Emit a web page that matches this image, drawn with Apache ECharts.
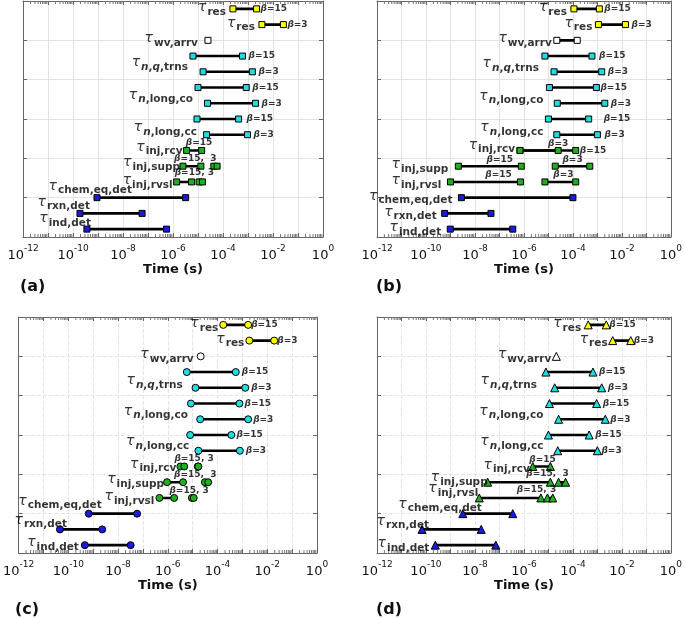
<!DOCTYPE html>
<html><head><meta charset="utf-8">
<script src="https://cdn.jsdelivr.net/npm/echarts@6/dist/echarts.min.js"></script>
<style>html,body{margin:0;padding:0;background:#fff}#c{width:685px;height:618px}</style>
</head><body><div id="c"></div><script>
// ---------------- data ----------------
const ROWS = ['ind','rxn','chem','rvsl','supp','rcv','cc3','cc15','co3','co15','nq3','nq15','wv','res3','res15'];
const PANEL_LETTERS = ['(a)','(b)','(c)','(d)'];
const X_MIN = 1e-12, X_MAX = 1;

// panel (a)
const aRow  = ['res15','res3','wv','nq15','nq3','co15','co3','cc15','cc3','rcv','supp','supp','rvsl','rvsl','chem','rxn','ind'];
const aFrom = [2.5e-4,3.6e-3,2.5e-5,6.3e-6,1.6e-5,1.0e-5,2.4e-5,9.1e-6,2.2e-5,3.5e-6,2.5e-6,4.3e-5,1.4e-6,1.1e-5,9.1e-10,1.9e-10,3.6e-10];
const aTo   = [2.2e-3,2.6e-2,null,6.0e-4,1.5e-3,8.5e-4,2.0e-3,4.2e-4,9.5e-4,1.4e-5,1.3e-5,5.8e-5,5.5e-6,1.5e-5,3.2e-6,5.8e-8,5.5e-7];
// panel (b)
const bRow  = ['res15','res3','wv','nq15','nq3','co15','co3','cc15','cc3','rcv','rcv','supp','supp','rvsl','rvsl','chem','rxn','ind'];
const bFrom = [1.1e-4,1.1e-3,2.2e-5,7.2e-6,1.7e-5,1.1e-5,2.3e-5,1.0e-5,2.2e-5,6.9e-7,6.9e-7,2.1e-9,1.9e-5,1.0e-9,7.2e-6,2.8e-9,5.8e-10,9.8e-10];
const bTo   = [1.2e-3,1.4e-2,1.5e-4,6.0e-4,1.5e-3,9.1e-4,2.0e-3,4.4e-4,1.0e-3,1.3e-4,2.5e-5,7.8e-7,4.9e-4,7.2e-7,1.3e-4,1.0e-4,4.5e-8,3.5e-7];
// panel (c)
const cRow  = ['res15','res3','wv','nq15','nq3','co15','co3','cc15','cc3','rcv','rcv','supp','supp','rvsl','rvsl','chem','rxn','ind'];
const cFrom = [1.7e-4,1.9e-3,2.1e-5,5.8e-6,1.3e-5,8.5e-6,2.0e-5,7.9e-6,1.7e-5,3.2e-6,1.6e-5,9.3e-7,3.1e-5,4.6e-7,9.3e-6,6.6e-10,4.6e-11,4.6e-10];
const cTo   = [1.7e-3,1.9e-2,null,5.4e-4,1.3e-3,7.6e-4,1.7e-3,3.6e-4,7.9e-4,4.6e-6,1.7e-5,4.1e-6,4.2e-5,1.8e-6,1.1e-5,5.8e-8,2.3e-9,3.2e-8];
// panel (d)
const dRow  = ['res15','res3','wv','nq15','nq3','co15','co3','cc15','cc3','rcv','supp','supp','rvsl','rvsl','chem','rxn','ind'];
const dFrom = [4.2e-4,4.2e-3,2.1e-5,7.9e-6,1.8e-5,1.1e-5,2.6e-5,1.0e-5,2.4e-5,2.3e-6,3.3e-8,2.6e-5,1.5e-8,9.1e-6,3.2e-9,6.9e-11,2.4e-10];
const dTo   = [2.3e-3,2.3e-2,null,6.6e-4,1.5e-3,9.3e-4,2.1e-3,4.6e-4,1.0e-3,1.2e-5,1.2e-5,5.0e-5,4.9e-6,1.5e-5,3.5e-7,1.8e-8,7.1e-8];

// label texts
const TAU_SUB = {res:'res', wv:'wv,arrv', nq:'{si|n}{s|,}{si|q}{s|,trns}', co:'{si|n}{s|,long,co}', cc:'{si|n}{s|,long,cc}',
  rcv:'inj,rcv', supp:'inj,supp', rvsl:'inj,rvsl', chem:'chem,eq,det', rxn:'rxn,det', ind:'ind,det'};

// ---------------- layout (label placement: text, segment, anchor, side, dx, dy) ----------------
const aLab = [['T:res',0,'s','L',-7,0],['T:res',1,'s','L',-7,0],['B:15',0,'e','R',4,0],['B:3',1,'e','R',4,0],
 ['T:wv',2,'s','L',-10,0],['T:nq',3,'s','L',-5,8],['B:15',3,'e','R',6,0],['B:3',4,'e','R',6,0],
 ['T:co',5,'s','L',-5,9],['B:15',5,'e','R',6,0],['B:3',6,'e','R',6,0],
 ['T:cc',7,'s','L',0,10],['B:15',7,'e','R',8,0],['B:3',8,'e','R',6,0],
 ['T:rcv',9,'s','L',-4,-2],['B:15',9,'m','C',5,-8],
 ['T:supp',10,'s','L',-3,-2],['B:15,  3',10,'s','R',-9,-8],
 ['T:rvsl',12,'s','L',-4,0],['B:15, 3',12,'s','R',-2,-9],
 ['T:chem',14,'s','L',35,-10],['T:rxn',15,'s','L',10,-10],['T:ind',16,'s','L',4,-9]];
const bLab = [['T:res',0,'s','L',-7,0],['T:res',1,'s','L',-6,0],['B:15',0,'e','R',5,0],['B:3',1,'e','R',6,0],
 ['T:wv',2,'s','L',-5,0],['T:nq',3,'s','L',-6,9],['B:15',3,'e','R',7,0],['B:3',4,'e','R',6,0],
 ['T:co',5,'s','L',-6,10],['B:15',5,'e','R',4,0],['B:3',6,'e','R',6,0],
 ['T:cc',7,'s','L',-5,10],['B:15',7,'e','R',15,0],['B:3',8,'e','R',7,0],
 ['T:rcv',9,'s','L',-5,-4],['B:3',10,'e','C',0,-7],['B:15',9,'e','R',4,0],
 ['T:supp',11,'s','L',-10,0],['B:15',11,'m','C',10,-7],['B:3',12,'m','C',0,-7],
 ['T:rvsl',13,'s','L',-9,0],['B:15',13,'m','C',13,-7],['B:3',14,'m','C',3,-7],
 ['T:chem',15,'s','L',-9,0],['T:rxn',16,'s','L',-8,0],['T:ind',17,'s','L',-9,0]];
const cLab = [['T:res',0,'s','L',-5,0],['T:res',1,'s','L',-5,0],['B:15',0,'e','R',3,0],['B:3',1,'e','R',3,0],
 ['T:wv',2,'s','L',-7,0],['T:nq',3,'s','L',-4,10],['B:15',3,'e','R',6,0],['B:3',4,'e','R',6,0],
 ['T:co',5,'s','L',-3,9],['B:15',5,'e','R',5,0],['B:3',6,'e','R',5,0],
 ['T:cc',7,'s','L',-1,8],['B:15',7,'e','R',5,0],['B:3',8,'e','R',6,0],
 ['T:rcv',9,'s','L',-4,-1],['B:15, 3',9,'s','R',-6,-8],
 ['T:supp',11,'s','L',-3,-1],['B:15,  3',11,'s','R',7,-8],
 ['T:rvsl',13,'s','L',-5,0],['B:15, 3',13,'s','R',10,-7],
 ['T:chem',15,'s','L',13,-11],['T:rxn',16,'s','L',7,-8],['T:ind',17,'s','L',-6,-1]];
const dLab = [['T:res',0,'s','L',-7,0],['T:res',1,'s','L',-5,0],['B:15',0,'e','R',3,0],['B:3',1,'e','R',3,0],
 ['T:wv',2,'s','L',-5,0],['T:nq',3,'s','L',-9,10],['B:15',3,'e','R',6,0],['B:3',4,'e','R',6,0],
 ['T:co',5,'s','L',-6,9],['B:15',5,'e','R',6,0],['B:3',6,'e','R',5,0],
 ['T:cc',7,'s','L',-5,8],['B:15',7,'e','R',6,0],['B:3',8,'e','R',4,0],
 ['T:rcv',9,'s','L',-3,0],['B:15',9,'m','C',1,-7],
 ['T:supp',10,'s','L',0,-3],['B:15,  3',10,'e','R',-24,-9],
 ['T:rvsl',12,'s','L',-1,-8],['B:15, 3',12,'e','R',-24,-8],
 ['T:chem',14,'s','L',19,-8],['T:rxn',15,'s','L',7,-7],['T:ind',16,'s','L',-6,0]];

const GRIDS = [
  {left:23, top:1, width:300, height:236},
  {left:377, top:1, width:300, height:236},
  {left:17, top:317, width:300, height:236},
  {left:377, top:317, width:300, height:236}
];
const SYMBOLS = ['rect','rect','circle','triangle'];
const SYMSIZE = [6,6,7,8];
const GRIDLINE_TYPE = ['solid','solid','dashed','dashed'];
const LETTER_POS = [[20,279],[376,279],[15,602],[376,602]];

const YELLOW='#ffff00', CYAN='#22dde0', GREEN='#1faf1f', BLUE='#1a1ae0', WHITE='#ffffff';
const FONT = 'DejaVu Sans';
function rowColor(r){
  if (r.indexOf('res')===0) return YELLOW;
  if (r==='wv') return WHITE;
  if (/^(nq|co|cc)/.test(r)) return CYAN;
  if (r==='rcv'||r==='supp'||r==='rvsl') return GREEN;
  return BLUE;
}
function rowY(r){ return ROWS.indexOf(r) + 0.5; }

const RICH = {
  t:{fontFamily:FONT, fontStyle:'italic', fontSize:14, color:'#000', padding:[0,1,3,0]},
  s:{fontFamily:FONT, fontWeight:'bold', fontSize:10.5, color:'#000', verticalAlign:'bottom'},
  si:{fontFamily:FONT, fontWeight:'bold', fontStyle:'italic', fontSize:10.5, color:'#000', verticalAlign:'bottom'},
  b:{fontFamily:FONT, fontWeight:'bold', fontStyle:'italic', fontSize:9, color:'#000'},
  c:{fontFamily:FONT, fontWeight:'bold', fontSize:9, color:'#000'}
};
function labelText(code){
  const [k, v] = code.split(':');
  if (k==='T') {
    const sub = TAU_SUB[v];
    return '{t|τ}' + (sub.indexOf('{')>=0 ? sub : '{s|'+sub+'}');
  }
  return '{b|β}{c|=' + v + '}';
}

const PANELS = [[aRow,aFrom,aTo,aLab],[bRow,bFrom,bTo,bLab],[cRow,cFrom,cTo,cLab],[dRow,dFrom,dTo,dLab]];

const MINOR = [];
for (let e=-12; e<0; e++) for (let k=2; k<=9; k++) MINOR.push([k*Math.pow(10,e), 0]);

const xAxis=[], yAxis=[], series=[], graphic=[];
PANELS.forEach((P, p) => {
  const [rows, from, to, labs] = P;
  const axColor = '#666';
  xAxis.push({type:'log', logBase:10, gridIndex:p, min:X_MIN, max:X_MAX, interval:1, splitNumber:12, position:'bottom',
    axisLine:{show:true, onZero:false, lineStyle:{color:axColor}},
    axisTick:{show:true, inside:true, length:4, lineStyle:{color:axColor}},
    axisLabel:{show:true, showMinLabel:true, showMaxLabel:true, hideOverlap:false, margin:7, color:'#111',
      formatter:(v)=>{ const e=Math.round(Math.log10(v)); return (e%2===0) ? '{n|10}{e|'+e+'}' : ''; },
      rich:{n:{fontFamily:FONT, fontSize:13, color:'#111', padding:[5,0,0,0]}, e:{fontFamily:FONT, fontSize:9, color:'#111', verticalAlign:'top'}}},
    splitLine:{show:true, lineStyle:{color:'#e3e3e3', type:GRIDLINE_TYPE[p]}},
    name:'Time (s)', nameLocation:'middle', nameGap:25,
    nameTextStyle:{fontFamily:FONT, fontWeight:'bold', fontSize:13, color:'#111'}});
  xAxis.push({type:'log', logBase:10, gridIndex:p, min:X_MIN, max:X_MAX, interval:1, splitNumber:12, position:'top',
    axisLine:{show:true, onZero:false, lineStyle:{color:axColor}},
    axisTick:{show:true, inside:true, length:4, lineStyle:{color:axColor}},
    axisLabel:{show:false}, splitLine:{show:false}});
  yAxis.push({type:'value', gridIndex:p, min:0, max:15, interval:2.5, position:'left',
    axisLine:{show:true, onZero:false, lineStyle:{color:axColor}},
    axisTick:{show:true, inside:true, length:4, lineStyle:{color:axColor}},
    axisLabel:{show:false}, splitLine:{show:true, lineStyle:{color:'#e3e3e3', type:GRIDLINE_TYPE[p]}}});
  yAxis.push({type:'value', gridIndex:p, min:0, max:15, interval:2.5, position:'right',
    axisLine:{show:true, onZero:false, lineStyle:{color:axColor}},
    axisTick:{show:true, inside:true, length:4, lineStyle:{color:axColor}},
    axisLabel:{show:false}, splitLine:{show:false}});

  // minor log ticks
  series.push({type:'custom', xAxisIndex:2*p, yAxisIndex:2*p, data:MINOR, silent:true, z:1, clip:false,
    renderItem:(params, api)=>{
      const v = api.value(0);
      const a = api.coord([v, 0]), b = api.coord([v, 15]);
      return {type:'group', children:[
        {type:'line', shape:{x1:a[0], y1:a[1], x2:a[0], y2:a[1]-3}, style:{stroke:'#777', lineWidth:1}},
        {type:'line', shape:{x1:b[0], y1:b[1], x2:b[0], y2:b[1]+3}, style:{stroke:'#777', lineWidth:1}}
      ]};
    }});

  // segments
  rows.forEach((r, i) => {
    const y = rowY(r);
    const data = to[i]==null ? [[from[i], y]] : [[from[i], y], [to[i], y]];
    series.push({type:'line', xAxisIndex:2*p, yAxisIndex:2*p, data, silent:true, animation:false,
      symbol:SYMBOLS[p], symbolSize:SYMSIZE[p], showSymbol:true, showAllSymbol:true, z:3,
      itemStyle:{color:rowColor(r), borderColor:'#000', borderWidth:1},
      lineStyle:{color:'#000', width:2.6}});
  });

  // annotations
  const annData = labs.map(L => {
    const [code, si, anc, side, dx, dy] = L;
    const y = rowY(rows[si]);
    const s = from[si], e = to[si]==null ? from[si] : to[si];
    const x = anc==='s' ? s : anc==='e' ? e : Math.sqrt(s*e);
    const txt = labelText(code);
    return {value:[x, y], label:{show:true, position: side==='L'?'left':side==='R'?'right':'inside',
      distance:0, offset:[dx, dy], formatter:()=>txt, rich:RICH}};
  });
  series.push({type:'scatter', xAxisIndex:2*p, yAxisIndex:2*p, data:annData, symbolSize:0.01, silent:true, z:5,
    itemStyle:{color:'rgba(0,0,0,0)'}, animation:false});

  graphic.push({type:'text', left:LETTER_POS[p][0], top:LETTER_POS[p][1],
    style:{text:PANEL_LETTERS[p], font:'bold 16px "DejaVu Sans"', fill:'#111'}});
});

const chart = echarts.init(document.getElementById('c'), null, {renderer:'canvas'});
chart.setOption({animation:false, backgroundColor:'#fff', grid:GRIDS, xAxis, yAxis, series, graphic});
</script></body></html>
